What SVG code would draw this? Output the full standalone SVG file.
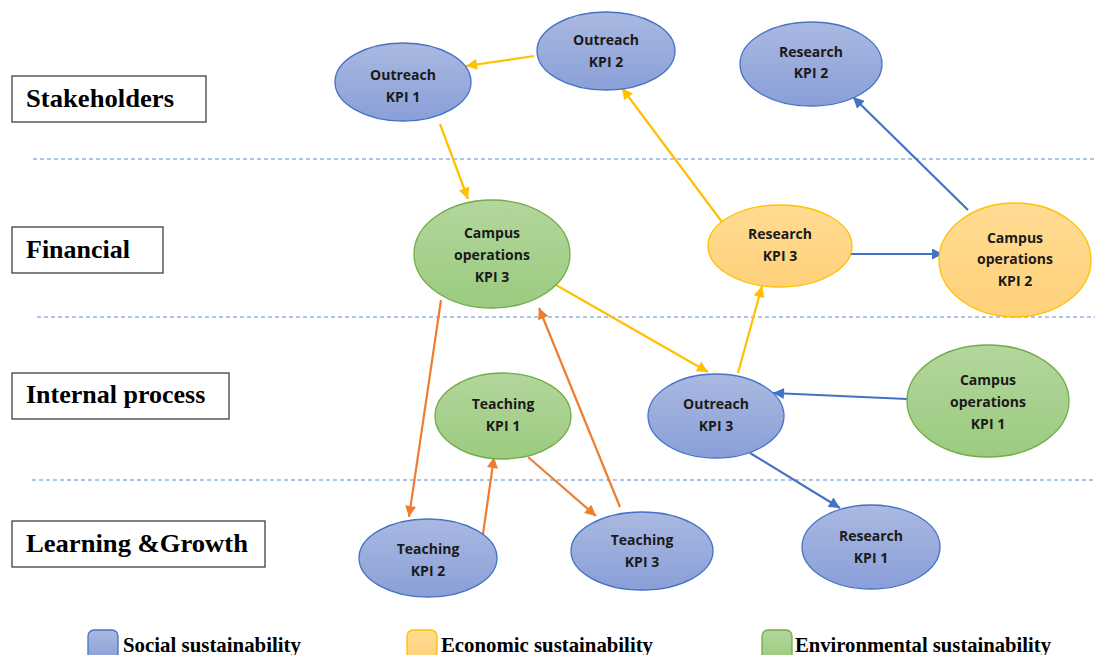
<svg xmlns="http://www.w3.org/2000/svg" width="1095" height="655" viewBox="0 0 1095 655">
<defs>
<linearGradient id="gs" x1="0" y1="0" x2="0" y2="1"><stop offset="0" stop-color="#aab9e1"/><stop offset="1" stop-color="#8a9fd8"/></linearGradient>
<linearGradient id="ge" x1="0" y1="0" x2="0" y2="1"><stop offset="0" stop-color="#ffdc93"/><stop offset="1" stop-color="#ffd17a"/></linearGradient>
<linearGradient id="gv" x1="0" y1="0" x2="0" y2="1"><stop offset="0" stop-color="#b3d69c"/><stop offset="1" stop-color="#9bcb80"/></linearGradient>
<marker id="ay" viewBox="0 0 10 10" refX="10" refY="5" markerWidth="14" markerHeight="11" markerUnits="userSpaceOnUse" orient="auto"><path d="M0,0 L10,5 L0,10 z" fill="#ffc000"/></marker>
<marker id="ab" viewBox="0 0 10 10" refX="10" refY="5" markerWidth="14" markerHeight="11" markerUnits="userSpaceOnUse" orient="auto"><path d="M0,0 L10,5 L0,10 z" fill="#4472c4"/></marker>
<marker id="ao" viewBox="0 0 10 10" refX="10" refY="5" markerWidth="14" markerHeight="11" markerUnits="userSpaceOnUse" orient="auto"><path d="M0,0 L10,5 L0,10 z" fill="#ed7d31"/></marker>
</defs>
<style>
.s{fill:url(#gs);stroke:#4472c4;stroke-width:1.3}
.e{fill:url(#ge);stroke:#ffc000;stroke-width:1.3}
.v{fill:url(#gv);stroke:#70ad47;stroke-width:1.3}
.t{font-family:"Open Sans","Liberation Sans",sans-serif;font-weight:bold;font-size:14px;fill:#1a1a1a;text-anchor:middle}
.lab{font-family:"Liberation Serif",serif;font-weight:bold;font-size:26px;fill:#000}
.box{fill:#fff;stroke:#404040;stroke-width:1.3}
.dash{stroke:#5b8bd0;stroke-width:1;stroke-dasharray:4 3}
.cy{stroke:#ffc000;stroke-width:2.2;fill:none;marker-end:url(#ay)}
.cb{stroke:#4472c4;stroke-width:2.2;fill:none;marker-end:url(#ab)}
.co{stroke:#ed7d31;stroke-width:2.2;fill:none;marker-end:url(#ao)}
.leg{font-family:"Liberation Serif",serif;font-weight:bold;font-size:22px;fill:#000}
</style>
<rect width="1095" height="655" fill="#fff"/>
<g id="lanes">
<line class="dash" x1="33" y1="159" x2="1095" y2="159"/>
<line class="dash" x1="37" y1="317" x2="1095" y2="317"/>
<line class="dash" x1="32" y1="480" x2="1095" y2="480"/>
</g>
<g id="label-stakeholders"><rect class="box" x="12" y="76" width="194" height="46"/><text class="lab" x="26" y="107" textLength="148" lengthAdjust="spacingAndGlyphs">Stakeholders</text></g>
<g id="label-financial"><rect class="box" x="12" y="227" width="151" height="46"/><text class="lab" x="26" y="258">Financial</text></g>
<g id="label-internal"><rect class="box" x="12" y="373" width="217" height="46"/><text class="lab" x="26" y="403">Internal process</text></g>
<g id="label-learning"><rect class="box" x="12" y="521" width="253" height="46"/><text class="lab" x="26" y="552" textLength="222" lengthAdjust="spacingAndGlyphs">Learning &amp;Growth</text></g>
<g id="connectors">
<line class="cy" x1="534" y1="56" x2="466" y2="66"/>
<line class="cy" x1="440" y1="124" x2="468" y2="199"/>
<line class="cy" x1="722" y1="222" x2="622" y2="88"/>
<line class="cy" x1="556" y1="285" x2="708" y2="372"/>
<line class="cy" x1="738" y1="373" x2="762" y2="286"/>
<line class="cb" x1="968" y1="210" x2="853" y2="97"/>
<line class="cb" x1="847" y1="254" x2="943" y2="254"/>
<line class="cb" x1="907" y1="399" x2="773" y2="393"/>
<line class="cb" x1="750" y1="453" x2="840" y2="508"/>
<line class="co" x1="441" y1="300" x2="409" y2="517"/>
<line class="co" x1="482" y1="541" x2="494" y2="457"/>
<line class="co" x1="528" y1="457" x2="596" y2="516"/>
<line class="co" x1="620" y1="507" x2="539" y2="308"/>
</g>
<g id="outreach-kpi1"><ellipse class="s" cx="403" cy="82" rx="68" ry="39"/><text class="t" x="403" y="80">Outreach</text><text class="t" x="403" y="102">KPI 1</text></g>
<g id="outreach-kpi2"><ellipse class="s" cx="606" cy="51" rx="69" ry="39"/><text class="t" x="606" y="45">Outreach</text><text class="t" x="606" y="67">KPI 2</text></g>
<g id="research-kpi2"><ellipse class="s" cx="811" cy="64" rx="71" ry="42"/><text class="t" x="811" y="57">Research</text><text class="t" x="811" y="78">KPI 2</text></g>
<g id="campus-kpi3"><ellipse class="v" cx="492" cy="254" rx="78" ry="54"/><text class="t" x="492" y="238">Campus</text><text class="t" x="492" y="260">operations</text><text class="t" x="492" y="282">KPI 3</text></g>
<g id="research-kpi3"><ellipse class="e" cx="780" cy="246" rx="72" ry="41"/><text class="t" x="780" y="239">Research</text><text class="t" x="780" y="261">KPI 3</text></g>
<g id="campus-kpi2"><ellipse class="e" cx="1015" cy="260" rx="76" ry="57"/><text class="t" x="1015" y="243">Campus</text><text class="t" x="1015" y="264">operations</text><text class="t" x="1015" y="286">KPI 2</text></g>
<g id="teaching-kpi1"><ellipse class="v" cx="503" cy="416" rx="68" ry="43"/><text class="t" x="503" y="409">Teaching</text><text class="t" x="503" y="431">KPI 1</text></g>
<g id="outreach-kpi3"><ellipse class="s" cx="716" cy="416" rx="68" ry="42"/><text class="t" x="716" y="409">Outreach</text><text class="t" x="716" y="431">KPI 3</text></g>
<g id="campus-kpi1"><ellipse class="v" cx="988" cy="401" rx="81" ry="56"/><text class="t" x="988" y="385">Campus</text><text class="t" x="988" y="407">operations</text><text class="t" x="988" y="429">KPI 1</text></g>
<g id="teaching-kpi2"><ellipse class="s" cx="428" cy="558" rx="69" ry="39"/><text class="t" x="428" y="554">Teaching</text><text class="t" x="428" y="576">KPI 2</text></g>
<g id="teaching-kpi3"><ellipse class="s" cx="642" cy="551" rx="71" ry="39"/><text class="t" x="642" y="545">Teaching</text><text class="t" x="642" y="567">KPI 3</text></g>
<g id="research-kpi1"><ellipse class="s" cx="871" cy="547" rx="69" ry="42"/><text class="t" x="871" y="541">Research</text><text class="t" x="871" y="563">KPI 1</text></g>
<g id="legend">
<rect class="s" x="88" y="630" width="30" height="30" rx="6"/>
<text class="leg" x="123" y="652" textLength="178" lengthAdjust="spacingAndGlyphs">Social sustainability</text>
<rect class="e" x="407" y="630" width="30" height="30" rx="6"/>
<text class="leg" x="441" y="652" textLength="212" lengthAdjust="spacingAndGlyphs">Economic sustainability</text>
<rect class="v" x="762" y="630" width="30" height="30" rx="6"/>
<text class="leg" x="795" y="652" textLength="256" lengthAdjust="spacingAndGlyphs">Environmental sustainability</text>
</g>
</svg>
